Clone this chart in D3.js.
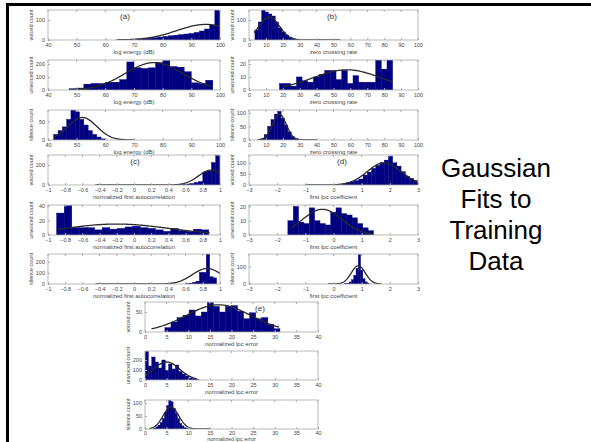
<!DOCTYPE html>
<html>
<head>
<meta charset="utf-8">
<script src="https://cdn.jsdelivr.net/npm/d3@7"></script>
<style>
  html, body { margin: 0; padding: 0; background: #fff; }
  svg { display: block; }
  text { font-family: "Liberation Sans", Arial, sans-serif; }
</style>
</head>
<body>
<svg id="chart" width="591" height="442"></svg>
<script>
// ---- features (one group of three histograms each) ----
const featureTags = ["(a)", "(b)", "(c)", "(d)", "(e)"];
const featureLabels = [
  "log energy (dB)",
  "zero crossing rate",
  "normalized first autocorrelation",
  "first lpc coefficient",
  "normalized lpc error"
];
const featureDomains = [[40, 100], [0, 100], [-1, 1], [-3, 3], [0, 40]];
const featureTicks = [
  [40, 50, 60, 70, 80, 90, 100],
  [0, 10, 20, 30, 40, 50, 60, 70, 80, 90, 100],
  [-1, -0.8, -0.6, -0.4, -0.2, 0, 0.2, 0.4, 0.6, 0.8, 1],
  [-3, -2, -1, 0, 1, 2, 3],
  [0, 5, 10, 15, 20, 25, 30, 35, 40]
];
const classLabels = ["voiced count", "unvoiced count", "silence count"];

// ---- histogram counts: first bin edge, bin width, counts ----
const energyVoiced   = { start: 64, width: 1.8, counts: [1, 1, 2, 3, 5, 7, 9, 12, 15, 18, 21, 24, 27, 30, 33, 38, 45, 55, 75, 150] };
const energyUnvoiced = { start: 47.5, width: 2.5, counts: [10, 15, 45, 50, 50, 60, 60, 80, 215, 170, 165, 170, 210, 225, 180, 175, 140, 55, 50, 75] };
const energySilence  = { start: 42, width: 1.5, counts: [15, 25, 35, 55, 80, 75, 55, 40, 25, 15, 8, 3] };

const zcrVoiced   = { start: 3.5, width: 2, counts: [50, 90, 150, 140, 130, 120, 90, 60, 40, 25, 12, 6, 3] };
const zcrUnvoiced = { start: 18, width: 3.35, counts: [5, 5, 3, 10, 7, 6, 10, 12, 15, 15, 8, 15, 5, 11, 6, 6, 6, 23, 16, 23] };
const zcrSilence  = { start: 7, width: 2, counts: [5, 20, 50, 75, 95, 105, 80, 55, 30, 12, 5, 2] };

const acorrVoiced   = { start: 0.5, width: 0.05, counts: [2, 5, 10, 15, 25, 35, 130, 140, 225, 295] };
const acorrUnvoiced = { start: -0.9, width: 0.0885, counts: [30, 40, 10, 10, 10, 7, 10, 8, 9, 11, 12, 10, 9, 7, 5, 9, 6, 5, 8, 7] };
const acorrSilence  = { start: 0.6, width: 0.04, counts: [3, 8, 15, 25, 105, 105, 270, 65, 55] };

const lpcVoiced   = { start: 0.3, width: 0.15, counts: [5, 10, 15, 20, 27, 45, 58, 75, 88, 100, 112, 130, 100, 85, 60, 40, 30, 20] };
const lpcUnvoiced = { start: -1.62, width: 0.19, counts: [10, 20, 9, 8, 19, 10, 8, 7, 16, 19, 15, 14, 12, 8, 5, 3] };
const lpcSilence  = { start: 0.4, width: 0.08, counts: [2, 5, 12, 25, 50, 90, 170, 80, 30, 12, 4] };

const errVoiced   = { start: 4.6, width: 1.4, counts: [11, 25, 36, 42, 55, 40, 50, 74, 64, 50, 64, 66, 52, 33, 48, 33, 36, 19, 8] };
const errUnvoiced = { start: 0, width: 0.78, counts: [285, 140, 230, 180, 120, 200, 95, 160, 110, 150, 85, 60, 40, 20, 10, 5] };
const errSilence  = { start: 2, width: 0.5, counts: [3, 8, 15, 25, 40, 65, 90, 110, 105, 80, 60, 40, 22, 12, 5, 2] };

// ---- Gaussian fits: mean, std, peak height, fitted x span ----
const energyFits = [
  { mu: 95, sigma: 10, peak: 78, from: 64, to: 100 },
  { mu: 77, sigma: 10, peak: 210, from: 48, to: 97 },
  { mu: 52, sigma: 5, peak: 60, from: 42, to: 70 }
];
const zcrFits = [
  { mu: 12, sigma: 6, peak: 115, from: 3, to: 54 },
  { mu: 58, sigma: 20, peak: 15.5, from: 20, to: 85 },
  { mu: 18, sigma: 4, peak: 95, from: 5, to: 40 }
];
const acorrFits = [
  { mu: 0.9, sigma: 0.15, peak: 150, from: -0.45, to: 1 },
  { mu: -0.2, sigma: 0.6, peak: 15, from: -0.9, to: 0.88 },
  { mu: 0.85, sigma: 0.17, peak: 140, from: -0.45, to: 1 }
];
const lpcFits = [
  { mu: 1.8, sigma: 0.6, peak: 100, from: -1, to: 3 },
  { mu: -0.4, sigma: 0.7, peak: 18, from: -1.5, to: 1.42 },
  { mu: 0.88, sigma: 0.25, peak: 105, from: -0.2, to: 1.7 }
];
const errFits = [
  { mu: 17, sigma: 7.5, peak: 68, from: 1.5, to: 31 },
  { mu: 5, sigma: 3, peak: 180, from: 0, to: 12 },
  { mu: 6, sigma: 1.8, peak: 85, from: 1, to: 15 }
];

// ---- y axis limits and ticks per histogram ----
const yMaxes = [
  [150, 230, 80],
  [150, 23, 110],
  [300, 41, 270],
  [135, 21, 173],
  [75, 290, 112]
];
const yTickValues = [
  [[0, 100], [0, 100, 200], [0, 50]],
  [[0, 100], [0, 10, 20], [0, 50, 100]],
  [[0, 200], [0, 20, 40], [0, 100, 200]],
  [[0, 50, 100], [0, 10, 20], [0, 100]],
  [[0, 50], [0, 100, 200], [0, 50, 100]]
];

const histograms = [
  [energyVoiced, energyUnvoiced, energySilence],
  [zcrVoiced, zcrUnvoiced, zcrSilence],
  [acorrVoiced, acorrUnvoiced, acorrSilence],
  [lpcVoiced, lpcUnvoiced, lpcSilence],
  [errVoiced, errUnvoiced, errSilence]
];
const fits = [energyFits, zcrFits, acorrFits, lpcFits, errFits];

// ---- page layout (pixel frames for each feature group) ----
const groupFrames = [
  { x0: 48, x1: 220, rows: [[10, 40], [60, 90], [110, 140]], tagX: 125 },
  { x0: 249, x1: 418, rows: [[10, 40], [60, 90], [110, 140]], tagX: 332 },
  { x0: 48, x1: 220, rows: [[155, 185], [205, 235], [254, 284]], tagX: 135 },
  { x0: 249, x1: 418, rows: [[155, 185], [205, 235], [254, 284]], tagX: 342 },
  { x0: 145, x1: 318, rows: [[302, 332], [351, 380], [400, 429]], tagX: 260 }
];

const BAR = "#000080";
const FIT = "#2a2a2a";
const AXIS = "#a8a8a8";
const TXT = "#444";

const svg = d3.select("#chart");
svg.append("rect").attr("width", 591).attr("height", 442).attr("fill", "#fff");

const defs = svg.append("defs");

featureLabels.forEach((label, g) => {
  const fr = groupFrames[g];
  fr.rows.forEach(([top, bottom], r) => {
    const x = d3.scaleLinear().domain(featureDomains[g]).range([fr.x0, fr.x1]);
    const y = d3.scaleLinear().domain([0, yMaxes[g][r]]).range([bottom, top]);
    const clipId = `clip-${g}-${r}`;
    defs.append("clipPath").attr("id", clipId)
      .append("rect").attr("x", fr.x0).attr("y", top)
      .attr("width", fr.x1 - fr.x0).attr("height", bottom - top);

    const panel = svg.append("g");
    const plot = panel.append("g").attr("clip-path", `url(#${clipId})`);

    // histogram bars
    const h = histograms[g][r];
    plot.selectAll("rect.bar")
      .data(h.counts)
      .join("rect")
      .attr("class", "bar")
      .attr("x", (d, i) => x(h.start + i * h.width))
      .attr("width", (d, i) => x(h.start + (i + 1) * h.width) - x(h.start + i * h.width))
      .attr("y", d => y(d))
      .attr("height", d => bottom - y(d))
      .attr("fill", BAR)
      .attr("stroke", BAR)
      .attr("stroke-width", 0.4);

    // fitted Gaussian
    const f = fits[g][r];
    const xs = d3.range(0, 121).map(i => f.from + (f.to - f.from) * i / 120);
    const gauss = v => f.peak * Math.exp(-0.5 * ((v - f.mu) / f.sigma) ** 2);
    plot.append("path")
      .datum(xs)
      .attr("fill", "none")
      .attr("stroke", FIT)
      .attr("stroke-width", 1.3)
      .attr("d", d3.line().x(v => x(v)).y(v => y(gauss(v))));

    // axes box
    panel.append("rect")
      .attr("x", fr.x0).attr("y", top)
      .attr("width", fr.x1 - fr.x0).attr("height", bottom - top)
      .attr("fill", "none").attr("stroke", AXIS).attr("stroke-width", 0.8);

    // the bottom-most panel sits against the page edge, so its texts are packed tighter
    const lastRow = bottom + 14 > 442;

    // x axis
    const xAxis = d3.axisBottom(x).tickValues(featureTicks[g]).tickSize(-2)
      .tickPadding(lastRow ? 2 : 3)
      .tickFormat(d3.format("~g"));
    const xa = panel.append("g").attr("transform", `translate(0,${bottom})`).call(xAxis);
    xa.select(".domain").remove();
    xa.selectAll("line").attr("stroke", AXIS);
    xa.selectAll("text").attr("font-size", 5.5).attr("fill", TXT)
      .attr("font-family", "'Liberation Sans', Arial, sans-serif");
    // ticks along the top edge
    panel.append("g").selectAll("line")
      .data(featureTicks[g])
      .join("line")
      .attr("x1", d => x(d)).attr("x2", d => x(d))
      .attr("y1", top).attr("y2", top + 2)
      .attr("stroke", AXIS);

    // y axis
    const yAxis = d3.axisLeft(y).tickValues(yTickValues[g][r]).tickSize(-2).tickPadding(3);
    const ya = panel.append("g").attr("transform", `translate(${fr.x0},0)`).call(yAxis);
    ya.select(".domain").remove();
    ya.selectAll("line").attr("stroke", AXIS);
    ya.selectAll("text").attr("font-size", 5.5).attr("fill", TXT)
      .attr("font-family", "'Liberation Sans', Arial, sans-serif");

    // labels
    panel.append("text")
      .attr("x", (fr.x0 + fr.x1) / 2).attr("y", lastRow ? 441 : bottom + 13.5)
      .attr("text-anchor", "middle").attr("font-size", lastRow ? 5.5 : 6).attr("fill", TXT)
      .text(label);
    panel.append("text")
      .attr("transform", `translate(${fr.x0 - 15},${(top + bottom) / 2}) rotate(-90)`)
      .attr("text-anchor", "middle").attr("font-size", 5.5).attr("fill", TXT)
      .text(classLabels[r]);

    if (r === 0) {
      panel.append("text")
        .attr("x", fr.tagX).attr("y", top + 9)
        .attr("text-anchor", "middle").attr("font-size", 8).attr("fill", "#333")
        .text(featureTags[g]);
    }
  });
});

// slide caption
const caption = ["Gaussian", "Fits to", "Training", "Data"];
svg.append("g").selectAll("text")
  .data(caption)
  .join("text")
  .attr("x", 496)
  .attr("y", (d, i) => 177 + i * 31)
  .attr("text-anchor", "middle")
  .attr("font-size", 26)
  .attr("fill", "#000")
  .text(d => d);

// slide frame
svg.append("line").attr("x1", 6).attr("x2", 591).attr("y1", 4.5).attr("y2", 4.5)
  .attr("stroke", "#000").attr("stroke-width", 3);
svg.append("line").attr("x1", 7.5).attr("x2", 7.5).attr("y1", 3).attr("y2", 442)
  .attr("stroke", "#000").attr("stroke-width", 3);
</script>
</body>
</html>
